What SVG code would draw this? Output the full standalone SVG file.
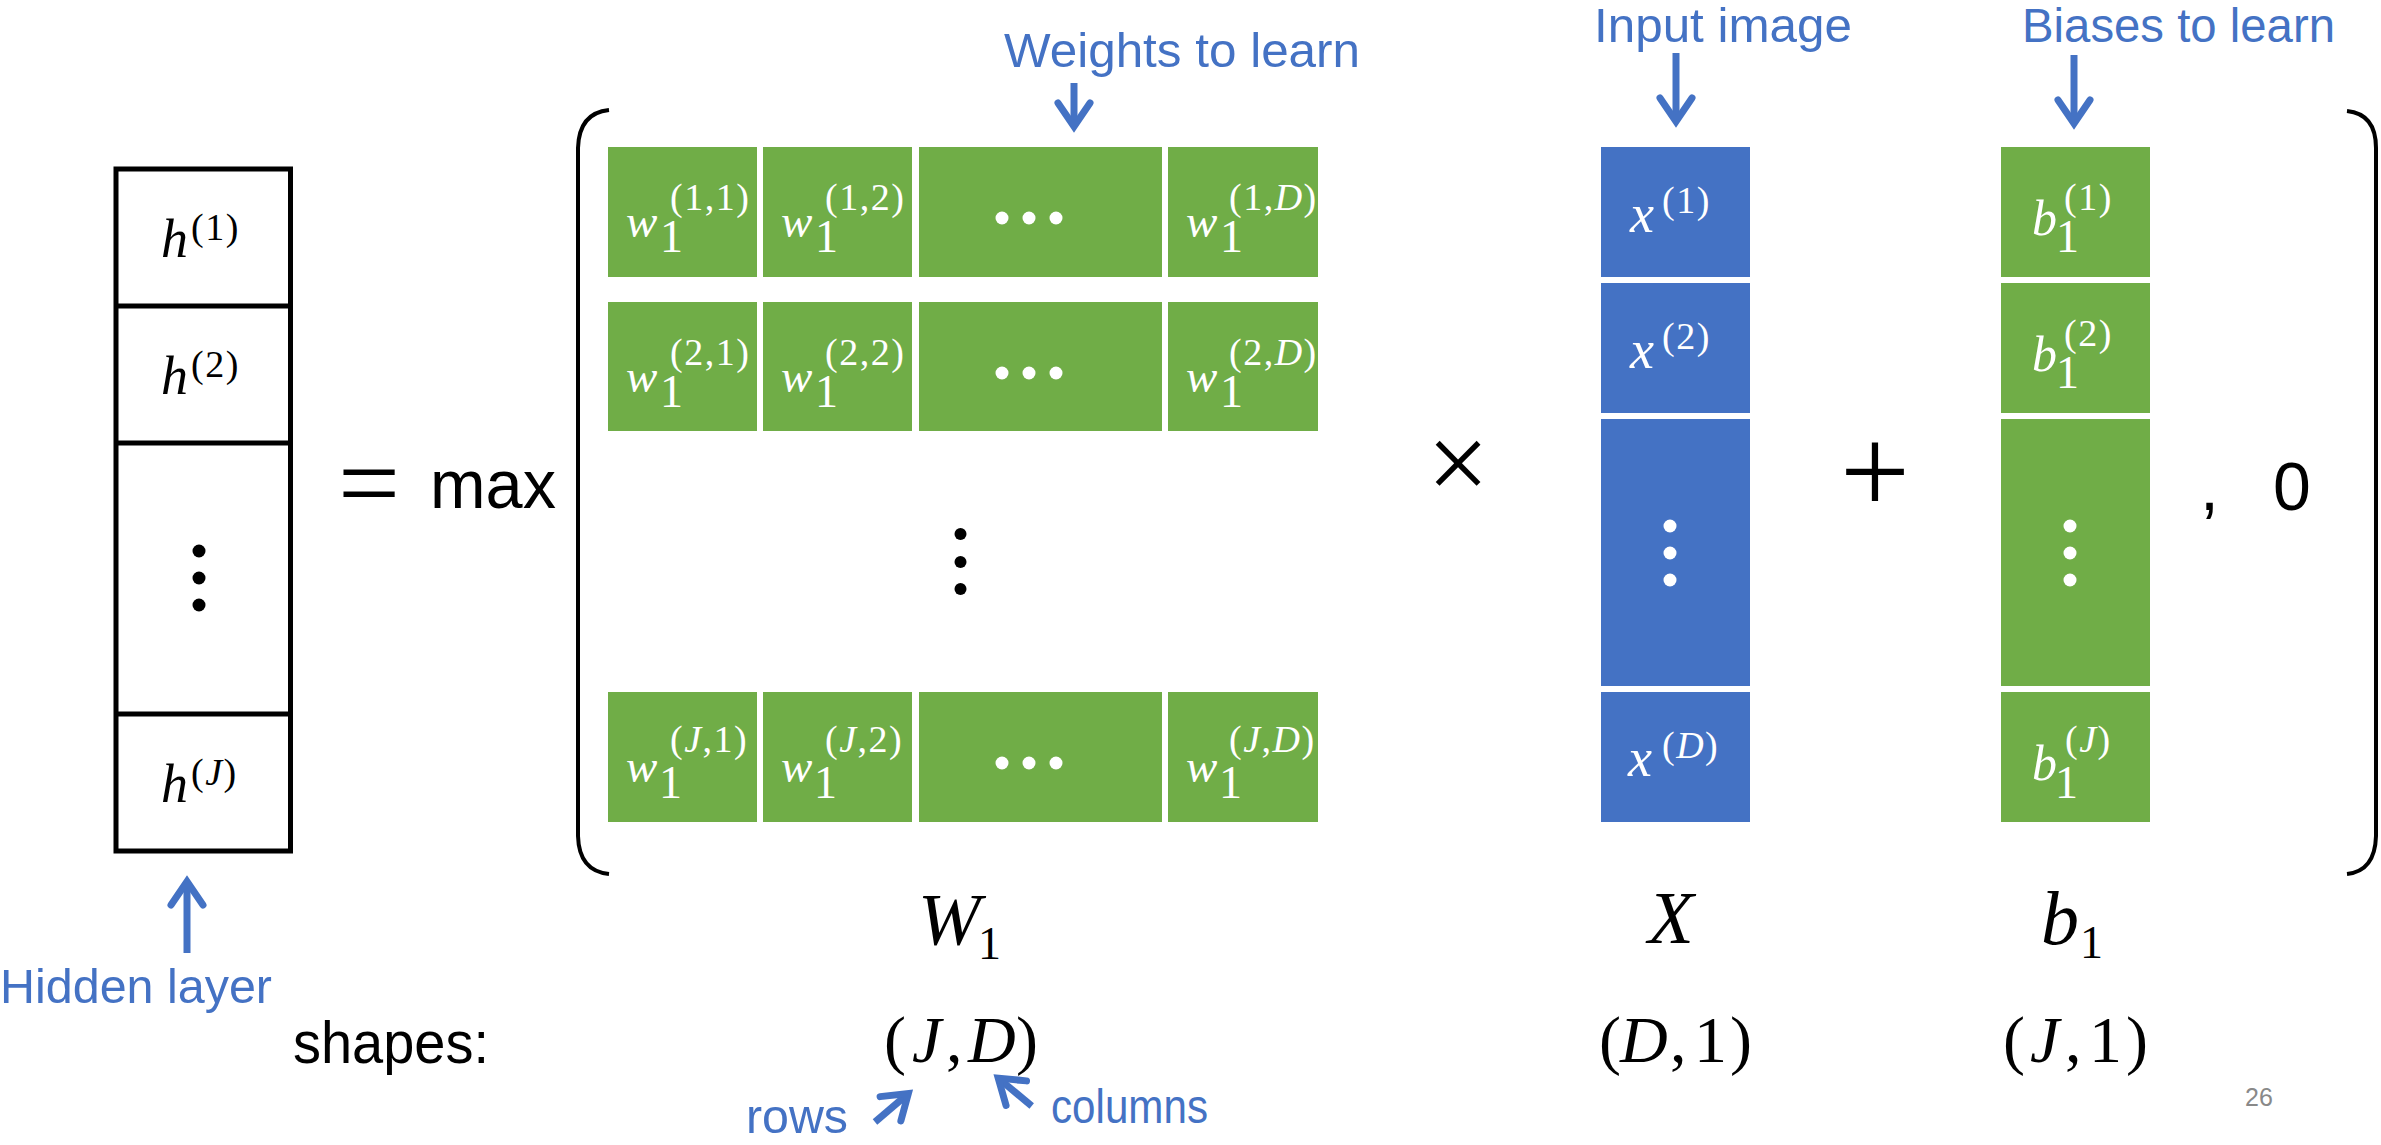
<svg xmlns="http://www.w3.org/2000/svg" width="2381" height="1145" viewBox="0 0 2381 1145">
<style>
.lbl{font-family:"Liberation Sans",Arial,sans-serif;fill:#4472C4;font-size:48px}
.sans{font-family:"Liberation Sans",Arial,sans-serif;fill:#000}
.m{font-family:"Liberation Serif","Times New Roman",serif;}
.it{font-style:italic}
.wt{fill:#fff}
.bk{fill:#000}
.g{fill:#70AD47}
.b{fill:#4472C4}
.sup{font-size:38px;letter-spacing:1.5px}
.main{font-size:47px}
.xl{font-size:54px}
.sub{font-size:46px}
.dot{fill:#fff}
.conn{stroke:#4472C4;stroke-width:7;fill:none;marker-end:url(#ah)}
</style>
<defs>
<marker id="ah" markerUnits="userSpaceOnUse" markerWidth="60" markerHeight="60" viewBox="-40 -30 60 60" refX="0" refY="0" orient="auto" overflow="visible">
<path d="M-22,-16 L1.5,0 L-22,16" fill="none" stroke="#4472C4" stroke-width="7" stroke-linecap="round" stroke-linejoin="miter"/>
</marker>
</defs>
<rect width="2381" height="1145" fill="#fff"/>

<g id="hidden-layer">
<rect x="116" y="169" width="174.5" height="682" fill="none" stroke="#000" stroke-width="5"/>
<line x1="116" y1="306" x2="290.5" y2="306" stroke="#000" stroke-width="5"/>
<line x1="116" y1="443" x2="290.5" y2="443" stroke="#000" stroke-width="5"/>
<line x1="116" y1="714" x2="290.5" y2="714" stroke="#000" stroke-width="5"/>
<text class="m bk"><tspan class="it" x="161" y="257" font-size="54">h</tspan><tspan class="sup" x="191" y="240">(1)</tspan></text>
<text class="m bk"><tspan class="it" x="161" y="394" font-size="54">h</tspan><tspan class="sup" x="191" y="377">(2)</tspan></text>
<text class="m bk"><tspan class="it" x="161" y="802" font-size="54">h</tspan><tspan class="sup" x="191" y="785">(<tspan class="it">J</tspan>)</tspan></text>
<circle cx="199" cy="551" r="6.5"/><circle cx="199" cy="578" r="6.5"/><circle cx="199" cy="605" r="6.5"/>
</g>

<g id="equals-max">
<text class="m bk" x="369" y="520" font-size="110" text-anchor="middle">=</text>
<text class="sans" x="430" y="508" font-size="68" textLength="126" lengthAdjust="spacingAndGlyphs">max</text>
</g>

<g id="brackets" fill="none" stroke="#000" stroke-width="4">
<path d="M609,110 Q579,113 578,148 L578,836 Q579,871 609,874"/>
<path d="M2347,111 Q2376,114 2376,148 L2376,836 Q2375,871 2347,874"/>
</g>

<g id="W1-matrix">
<g class="g">
<rect x="608" y="147" width="149" height="130"/><rect x="763" y="147" width="149" height="130"/><rect x="919" y="147" width="243" height="130"/><rect x="1168" y="147" width="150" height="130"/>
<rect x="608" y="302" width="149" height="129"/><rect x="763" y="302" width="149" height="129"/><rect x="919" y="302" width="243" height="129"/><rect x="1168" y="302" width="150" height="129"/>
<rect x="608" y="692" width="149" height="130"/><rect x="763" y="692" width="149" height="130"/><rect x="919" y="692" width="243" height="130"/><rect x="1168" y="692" width="150" height="130"/>
</g>
<g class="m wt">
<text><tspan class="it main" x="626" y="237">w</tspan><tspan class="sub" x="660" y="252">1</tspan><tspan class="sup" x="670" y="210">(1,1)</tspan></text>
<text><tspan class="it main" x="781" y="237">w</tspan><tspan class="sub" x="815" y="252">1</tspan><tspan class="sup" x="825" y="210">(1,2)</tspan></text>
<text><tspan class="it main" x="1186" y="237">w</tspan><tspan class="sub" x="1220" y="252">1</tspan><tspan class="sup" x="1229" y="210">(1,<tspan class="it">D</tspan>)</tspan></text>
<text><tspan class="it main" x="626" y="392">w</tspan><tspan class="sub" x="660" y="407">1</tspan><tspan class="sup" x="670" y="365">(2,1)</tspan></text>
<text><tspan class="it main" x="781" y="392">w</tspan><tspan class="sub" x="815" y="407">1</tspan><tspan class="sup" x="825" y="365">(2,2)</tspan></text>
<text><tspan class="it main" x="1186" y="392">w</tspan><tspan class="sub" x="1220" y="407">1</tspan><tspan class="sup" x="1229" y="365">(2,<tspan class="it">D</tspan>)</tspan></text>
<text><tspan class="it main" x="626" y="782">w</tspan><tspan class="sub" x="659" y="798">1</tspan><tspan class="sup" x="670" y="752">(<tspan class="it">J</tspan>,1)</tspan></text>
<text><tspan class="it main" x="781" y="782">w</tspan><tspan class="sub" x="814" y="798">1</tspan><tspan class="sup" x="825" y="752">(<tspan class="it">J</tspan>,2)</tspan></text>
<text><tspan class="it main" x="1186" y="782">w</tspan><tspan class="sub" x="1219" y="798">1</tspan><tspan class="sup" x="1229" y="752">(<tspan class="it">J</tspan>,<tspan class="it">D</tspan>)</tspan></text>
</g>
<g class="dot">
<circle cx="1002" cy="218" r="6.5"/><circle cx="1029" cy="218" r="6.5"/><circle cx="1056" cy="218" r="6.5"/>
<circle cx="1002" cy="373" r="6.5"/><circle cx="1029" cy="373" r="6.5"/><circle cx="1056" cy="373" r="6.5"/>
<circle cx="1002" cy="763" r="6.5"/><circle cx="1029" cy="763" r="6.5"/><circle cx="1056" cy="763" r="6.5"/>
</g>
<circle cx="960.5" cy="534" r="6"/><circle cx="960.5" cy="562" r="6"/><circle cx="960.5" cy="589" r="6"/>
<text class="m bk"><tspan class="it" x="918" y="945" font-size="75">W</tspan><tspan x="978" y="959" font-size="46">1</tspan></text>
</g>

<g id="times">
<text class="m bk" x="1458" y="500" font-size="110" text-anchor="middle">×</text>
</g>

<g id="X-vector">
<g class="b">
<rect x="1601" y="147" width="149" height="130"/><rect x="1601" y="283" width="149" height="130"/><rect x="1601" y="419" width="149" height="267"/><rect x="1601" y="692" width="149" height="130"/>
</g>
<g class="m wt">
<text><tspan class="it xl" x="1630" y="232">x</tspan><tspan class="sup" x="1662" y="213">(1)</tspan></text>
<text><tspan class="it xl" x="1630" y="368">x</tspan><tspan class="sup" x="1662" y="349">(2)</tspan></text>
<text><tspan class="it xl" x="1628" y="776">x</tspan><tspan class="sup" x="1662" y="758">(<tspan class="it">D</tspan>)</tspan></text>
</g>
<g class="dot"><circle cx="1670" cy="526" r="6.5"/><circle cx="1670" cy="553" r="6.5"/><circle cx="1670" cy="580" r="6.5"/></g>
<text class="m bk it" x="1648" y="943" font-size="75">X</text>
</g>

<g id="plus">
<text class="m bk" x="1875" y="513" font-size="124" text-anchor="middle">+</text>
</g>

<g id="b1-vector">
<g class="g">
<rect x="2001" y="147" width="149" height="130"/><rect x="2001" y="283" width="149" height="130"/><rect x="2001" y="419" width="149" height="267"/><rect x="2001" y="692" width="149" height="130"/>
</g>
<g class="m wt">
<text><tspan class="it" x="2032" y="235" font-size="50">b</tspan><tspan class="sub" x="2056" y="252">1</tspan><tspan class="sup" x="2064" y="210">(1)</tspan></text>
<text><tspan class="it" x="2032" y="371" font-size="50">b</tspan><tspan class="sub" x="2056" y="388">1</tspan><tspan class="sup" x="2064" y="346">(2)</tspan></text>
<text><tspan class="it" x="2032" y="780" font-size="50">b</tspan><tspan class="sub" x="2055" y="798">1</tspan><tspan class="sup" x="2065" y="752">(<tspan class="it">J</tspan>)</tspan></text>
</g>
<g class="dot"><circle cx="2070" cy="526" r="6.5"/><circle cx="2070" cy="553" r="6.5"/><circle cx="2070" cy="580" r="6.5"/></g>
<text class="m bk"><tspan class="it" x="2041" y="944" font-size="76">b</tspan><tspan x="2080" y="958" font-size="46">1</tspan></text>
</g>

<g id="comma-zero">
<text class="sans" font-size="68"><tspan x="2200" y="510">,</tspan><tspan x="2273" y="510">0</tspan></text>
</g>

<g id="shapes">
<text class="sans" x="293" y="1063" font-size="60" textLength="196" lengthAdjust="spacingAndGlyphs">shapes:</text>
<text class="m bk" font-size="66"><tspan x="884" y="1062">(</tspan><tspan class="it" x="912" y="1062">J</tspan><tspan x="946" y="1062">,</tspan><tspan class="it" x="968" y="1062">D</tspan><tspan x="1016" y="1062">)</tspan></text>
<text class="m bk" font-size="66"><tspan x="1599" y="1062">(</tspan><tspan class="it" x="1620" y="1062">D</tspan><tspan x="1670" y="1062">,</tspan><tspan x="1694" y="1062">1</tspan><tspan x="1730" y="1062">)</tspan></text>
<text class="m bk" font-size="66"><tspan x="2003" y="1062">(</tspan><tspan class="it" x="2030" y="1062">J</tspan><tspan x="2065" y="1062">,</tspan><tspan x="2089" y="1062">1</tspan><tspan x="2126" y="1062">)</tspan></text>
</g>

<g id="labels">
<text class="lbl" x="1004" y="67" textLength="356" lengthAdjust="spacingAndGlyphs">Weights to learn</text>
<text class="lbl" x="1594" y="42" font-size="47" textLength="258" lengthAdjust="spacingAndGlyphs">Input image</text>
<text class="lbl" x="2022" y="42" font-size="47" textLength="313" lengthAdjust="spacingAndGlyphs">Biases to learn</text>
<text class="lbl" x="0" y="1003" textLength="272" lengthAdjust="spacingAndGlyphs">Hidden layer</text>
<text class="lbl" x="746" y="1133" font-size="42" textLength="102" lengthAdjust="spacingAndGlyphs">rows</text>
<text class="lbl" x="1051" y="1123" font-size="42" textLength="157" lengthAdjust="spacingAndGlyphs">columns</text>
<text x="2245" y="1106" font-family="Liberation Sans, Arial, sans-serif" font-size="25" fill="#898989">26</text>
</g>

<g id="connectors">
<path class="conn" d="M1074,83 L1074,125"/>
<path class="conn" d="M1676,53 L1676,120"/>
<path class="conn" d="M2074,55 L2074,122"/>
<path class="conn" d="M187,953 L187,883"/>
<path class="conn" d="M875,1122 L907.2,1094.5"/>
<path class="conn" d="M1031.7,1106 L999.4,1079.1"/>
</g>
</svg>
